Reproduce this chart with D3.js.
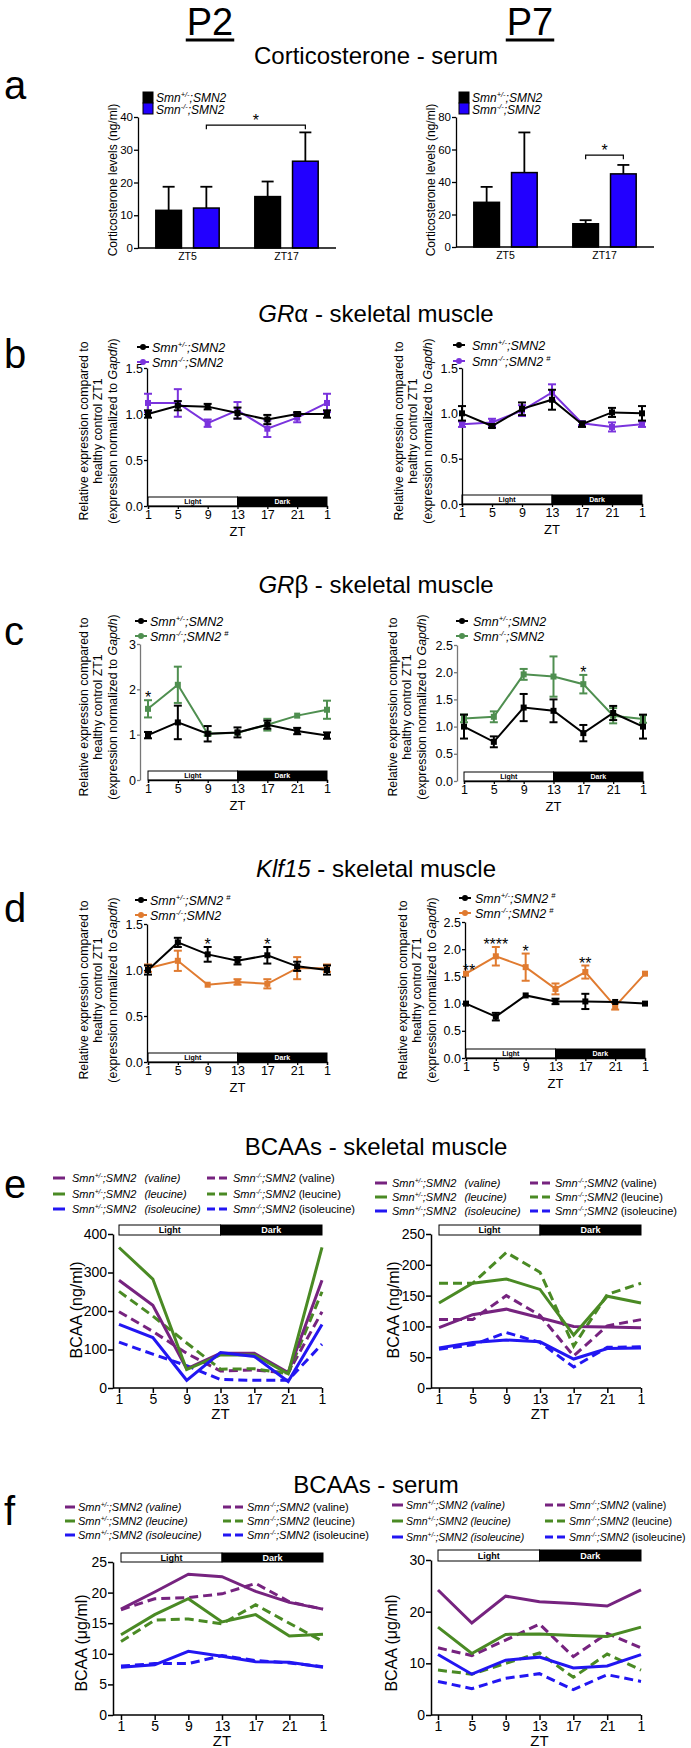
<!DOCTYPE html>
<html><head><meta charset="utf-8">
<script src="https://cdn.jsdelivr.net/npm/d3@7"></script>
<style>
body{margin:0;background:#fff;}
</style></head>
<body>
<script>
// ---------------- DATA ----------------
const ageLabels = ["P2", "P7"];
const panelLetters = ["a", "b", "c", "d", "e", "f"];
const barGroups = ["ZT5", "ZT17"];
const genoSup = ["+/-", "-/-"];
const zt = ["1", "5", "9", "13", "17", "21", "1"];
const ldLabels = ["Light", "Dark"];
const aminoAcids = ["valine", "leucine", "isoleucine"];

// a: corticosterone (ng/ml) [ZT5, ZT17]
const cortP2Het = [11.5, 15.7], cortP2HetErr = [7.2, 4.6];
const cortP2KO = [12.2, 26.5], cortP2KOErr = [6.5, 8.8];
const cortP7Het = [27.5, 14.3], cortP7HetErr = [9.5, 2.2];
const cortP7KO = [45.8, 45.0], cortP7KOErr = [24.7, 5.5];

// b: GR alpha
const graP2Het = [1.00, 1.09, 1.08, 1.01, 0.94, 1.00, 1.00];
const graP2HetErr = [0.04, 0.05, 0.03, 0.06, 0.05, 0.02, 0.04];
const graP2KO = [1.12, 1.12, 0.90, 1.04, 0.84, 0.96, 1.12];
const graP2KOErr = [0.10, 0.15, 0.04, 0.09, 0.09, 0.05, 0.10];
const graP7Het = [1.00, 0.86, 1.05, 1.15, 0.88, 1.01, 1.00];
const graP7HetErr = [0.08, 0.02, 0.07, 0.11, 0.03, 0.05, 0.08];
const graP7KO = [0.88, 0.90, 1.03, 1.23, 0.89, 0.85, 0.88];
const graP7KOErr = [0.03, 0.04, 0.06, 0.09, 0.02, 0.05, 0.03];

// c: GR beta
const grbP2Het = [0.99, 1.27, 1.02, 1.05, 1.22, 1.08, 0.98];
const grbP2HetErr = [0.07, 0.37, 0.17, 0.11, 0.09, 0.07, 0.07];
const grbP2KO = [1.57, 2.10, 1.02, 1.04, 1.22, 1.42, 1.55];
const grbP2KOErr = [0.19, 0.40, 0.04, 0.02, 0.13, 0.02, 0.20];
const grbP7Het = [1.00, 0.72, 1.35, 1.29, 0.88, 1.25, 1.00];
const grbP7HetErr = [0.22, 0.10, 0.25, 0.21, 0.15, 0.13, 0.22];
const grbP7KO = [1.15, 1.18, 1.96, 1.92, 1.78, 1.20, 1.14];
const grbP7KOErr = [0.07, 0.10, 0.10, 0.37, 0.17, 0.14, 0.07];

// d: Klf15
const klfP2Het = [1.00, 1.30, 1.17, 1.10, 1.16, 1.04, 1.00];
const klfP2HetErr = [0.05, 0.05, 0.08, 0.04, 0.09, 0.05, 0.05];
const klfP2KO = [1.02, 1.10, 0.84, 0.87, 0.85, 1.02, 1.02];
const klfP2KOErr = [0.04, 0.11, 0.01, 0.03, 0.05, 0.12, 0.04];
const klfP7Het = [1.00, 0.76, 1.15, 1.04, 1.04, 1.03, 1.00];
const klfP7HetErr = [0.01, 0.07, 0.01, 0.05, 0.14, 0.01, 0.01];
const klfP7KO = [1.55, 1.87, 1.67, 1.27, 1.58, 0.95, 1.55];
const klfP7KOErr = [0.01, 0.17, 0.25, 0.10, 0.12, 0.06, 0.01];

// e: BCAAs skeletal muscle (ng/ml)
const musP2HetVal = [280, 215, 50, 90, 90, 40, 280];
const musP2HetLeu = [365, 283, 48, 86, 86, 37, 365];
const musP2HetIle = [165, 131, 20, 92, 82, 17, 165];
const musP2KOVal = [198, 147, 90, 44, 47, 39, 198];
const musP2KOLeu = [251, 187, 117, 49, 50, 37, 250];
const musP2KOIle = [119, 88, 58, 22, 20, 20, 114];
const musP7HetVal = [98, 119, 128, 114, 100, 99, 98];
const musP7HetLeu = [138, 170, 177, 160, 86, 149, 138];
const musP7HetIle = [65, 74, 78, 75, 47, 64, 65];
const musP7KOVal = [111, 111, 150, 118, 52, 101, 111];
const musP7KOLeu = [170, 170, 220, 188, 68, 152, 170];
const musP7KOIle = [63, 70, 90, 74, 34, 66, 67];

// f: BCAAs serum (ug/ml)
const serP2HetVal = [17.3, 20.1, 23.0, 22.6, 20.2, 18.4, 17.3];
const serP2HetLeu = [13.1, 16.4, 19.0, 15.2, 16.4, 12.9, 13.2];
const serP2HetIle = [7.8, 8.2, 10.4, 9.6, 8.7, 8.6, 7.8];
const serP2KOVal = [17.2, 19.0, 19.2, 19.8, 21.5, 18.5, 17.3];
const serP2KOLeu = [12.0, 15.5, 15.7, 14.9, 18.0, 15.0, 12.0];
const serP2KOIle = [8.0, 8.4, 8.4, 9.7, 8.9, 8.5, 7.9];
const serP7HetVal = [24.2, 17.8, 23.0, 21.9, 21.6, 21.1, 24.2];
const serP7HetLeu = [17.0, 11.9, 15.6, 15.7, 15.4, 15.2, 17.0];
const serP7HetIle = [11.7, 7.9, 10.6, 11.2, 9.1, 9.5, 11.7];
const serP7KOVal = [13.0, 11.5, 14.5, 17.6, 11.3, 15.8, 13.0];
const serP7KOLeu = [8.7, 7.9, 10.0, 12.0, 7.3, 11.8, 8.7];
const serP7KOIle = [6.5, 5.1, 7.1, 8.0, 4.9, 7.8, 6.5];

// ---------------- STYLE ----------------
const FONT = '"Liberation Sans", Arial, Helvetica, sans-serif';
const C = {
  black: "#000000", blue: "#2200ff", purpleB: "#7a33dd", greenC: "#4f8f50",
  orange: "#e07b30", ePurple: "#76237f", eGreen: "#4a8a24", eBlue: "#2216f2"
};

const svg = d3.select("body").append("svg")
  .attr("width", 691).attr("height", 1748)
  .style("font-family", FONT).style("background", "#fff");

// ---------------- HELPERS ----------------
function geno(text, k, fs, opts = {}) {
  text.append("tspan").attr("font-style", "italic").text("Smn");
  text.append("tspan").attr("font-style", "italic").attr("font-size", fs * 0.62)
    .attr("dy", -fs * 0.4).text(genoSup[k]);
  text.append("tspan").attr("font-style", "italic").attr("dy", fs * 0.4).text(";SMN2");
  if (opts.hash) {
    text.append("tspan").attr("font-size", fs * 0.62).attr("dx", 3).attr("dy", -fs * 0.4).text("#");
  }
  if (opts.suffix) {
    text.append("tspan").attr("font-style", opts.suffixItalic ? "italic" : "normal")
      .attr("dx", opts.suffixDx || 3).text(opts.suffix);
  }
}

function drawLD(g, xa, xb, xm, yt, h, fs) {
  g.append("rect").attr("x", xa).attr("y", yt).attr("width", xm - xa).attr("height", h)
    .attr("fill", "#fff").attr("stroke", "#000").attr("stroke-width", 1);
  g.append("rect").attr("x", xm).attr("y", yt).attr("width", xb - xm).attr("height", h)
    .attr("fill", "#000").attr("stroke", "#000").attr("stroke-width", 1);
  g.append("text").attr("x", (xa + xm) / 2).attr("y", yt + h / 2).attr("dy", "0.36em")
    .attr("text-anchor", "middle").attr("font-size", fs).attr("font-weight", "bold").text(ldLabels[0]);
  g.append("text").attr("x", (xm + xb) / 2).attr("y", yt + h / 2).attr("dy", "0.36em")
    .attr("text-anchor", "middle").attr("font-size", fs).attr("font-weight", "bold")
    .attr("fill", "#fff").text(ldLabels[1]);
}

function styleAxis(ax, fs, color = "#000", sw = 1.3) {
  ax.selectAll("path.domain").attr("stroke", color).attr("stroke-width", sw);
  ax.selectAll(".tick line").attr("stroke", color).attr("stroke-width", sw);
  ax.selectAll(".tick text").attr("font-size", fs).attr("fill", "#000").style("font-family", FONT);
}

function multiLabel(g, cx, cy, lines, fs, gap) {
  const t = g.append("g").attr("transform", `translate(${cx},${cy}) rotate(-90)`);
  lines.forEach((ln, i) => {
    const tx = t.append("text").attr("x", 0).attr("y", (i - (lines.length - 1) / 2) * gap + fs * 0.35)
      .attr("text-anchor", "middle").attr("font-size", fs);
    ln.forEach(part => tx.append("tspan").attr("font-style", part.it ? "italic" : "normal").text(part.t));
  });
}

// ---------------- HEADERS ----------------
[[210, ageLabels[0]], [530, ageLabels[1]]].forEach(([cx, lab]) => {
  const t = svg.append("text").attr("x", cx).attr("y", 35).attr("text-anchor", "middle")
    .attr("font-size", 38).text(lab);
  const w = t.node().getComputedTextLength();
  svg.append("rect").attr("x", cx - w / 2 - 1).attr("y", 38.5).attr("width", w + 2).attr("height", 3).attr("fill", "#000");
});

function sectionTitle(y, parts) {
  const t = svg.append("text").attr("x", 376).attr("y", y).attr("text-anchor", "middle").attr("font-size", 24);
  parts.forEach(p => t.append("tspan").attr("font-style", p.it ? "italic" : "normal").text(p.t));
}
sectionTitle(64, [{t: "Corticosterone - serum"}]);
sectionTitle(322, [{t: "GR", it: true}, {t: "α - skeletal muscle"}]);
sectionTitle(593, [{t: "GR", it: true}, {t: "β - skeletal muscle"}]);
sectionTitle(877, [{t: "Klf15", it: true}, {t: " - skeletal muscle"}]);
sectionTitle(1155, [{t: "BCAAs - skeletal muscle"}]);
sectionTitle(1493, [{t: "BCAAs - serum"}]);

[[99, 0], [368, 1], [645, 2], [922, 3], [1198, 4], [1525, 5]].forEach(([y, i]) => {
  svg.append("text").attr("x", 4).attr("y", y).attr("font-size", 40).text(panelLetters[i]);
});

// ---------------- PANEL a ----------------
function barPanel(o) {
  const g = svg.append("g");
  const x = d3.scaleBand().domain(barGroups).range([o.x0, o.x1]);
  const bw = x.bandwidth();
  const xi = d3.scaleBand().domain([0, 1]).range([0.18 * bw, 0.82 * bw]).paddingInner(0.32);
  const y = d3.scaleLinear().domain([0, o.max]).range([o.yBot, o.yTop]);
  const vals = [o.het, o.ko], errs = [o.hetErr, o.koErr], cols = [C.black, C.blue];
  barGroups.forEach((grp, gi) => {
    [0, 1].forEach(k => {
      const bx = x(grp) + xi(k), w = xi.bandwidth(), cx = bx + w / 2;
      const v = vals[k][gi], e = errs[k][gi];
      g.append("line").attr("x1", cx).attr("x2", cx).attr("y1", y(v)).attr("y2", y(v + e))
        .attr("stroke", "#000").attr("stroke-width", 1.8);
      g.append("line").attr("x1", cx - 6).attr("x2", cx + 6).attr("y1", y(v + e)).attr("y2", y(v + e))
        .attr("stroke", "#000").attr("stroke-width", 1.8);
      g.append("rect").attr("x", bx).attr("y", y(v)).attr("width", w).attr("height", o.yBot - y(v))
        .attr("fill", cols[k]).attr("stroke", "#000").attr("stroke-width", 1.5);
    });
  });
  const ya = g.append("g").attr("transform", `translate(${o.x0},0)`)
    .call(d3.axisLeft(y).tickValues(o.ticks).tickSize(4).tickSizeOuter(0).tickPadding(1));
  styleAxis(ya, 11.5);
  g.append("line").attr("x1", o.x0).attr("x2", o.x1).attr("y1", o.yBot).attr("y2", o.yBot)
    .attr("stroke", "#000").attr("stroke-width", 1.3);
  barGroups.forEach(grp => {
    g.append("text").attr("x", x(grp) + bw / 2).attr("y", o.yBot + 12).attr("text-anchor", "middle")
      .attr("font-size", 10.5).text(grp);
  });
  const s = o.sig;
  const sx1 = x(barGroups[s.from[0]]) + xi(s.from[1]) + xi.bandwidth() / 2;
  const sx2 = x(barGroups[s.to[0]]) + xi(s.to[1]) + xi.bandwidth() / 2;
  const sy = y(s.level);
  g.append("path").attr("d", `M${sx1},${sy + 4}V${sy}H${sx2}V${sy + 4}`).attr("fill", "none")
    .attr("stroke", "#000").attr("stroke-width", 1.2);
  g.append("text").attr("x", (sx1 + sx2) / 2).attr("y", sy + 1).attr("text-anchor", "middle")
    .attr("font-size", 16).text(s.label);
  [0, 1].forEach(k => {
    g.append("rect").attr("x", o.legX).attr("y", 92 + k * 11).attr("width", 10).attr("height", 11)
      .attr("fill", cols[k]).attr("stroke", "#000").attr("stroke-width", 1);
    const t = g.append("text").attr("x", o.legX + 13).attr("y", 102 + k * 12).attr("font-size", 12);
    geno(t, k, 12);
  });
  multiLabel(g, o.ylabX, 180, [[{t: "Corticosterone levels (ng/ml)"}]], 12, 14);
}
barPanel({x0: 138, x1: 336, yTop: 117, yBot: 248, max: 40, ticks: [0, 10, 20, 30, 40],
  het: cortP2Het, hetErr: cortP2HetErr, ko: cortP2KO, koErr: cortP2KOErr,
  sig: {from: [0, 1], to: [1, 1], level: 37.5, label: "*"}, legX: 143, ylabX: 113});
barPanel({x0: 456, x1: 654, yTop: 117, yBot: 247, max: 80, ticks: [0, 20, 40, 60, 80],
  het: cortP7Het, hetErr: cortP7HetErr, ko: cortP7KO, koErr: cortP7KOErr,
  sig: {from: [1, 0], to: [1, 1], level: 56.5, label: "*"}, legX: 459, ylabX: 431});

// ---------------- PANELS b-d ----------------
const ylabLines = [
  [{t: "Relative expression compared to"}],
  [{t: "healthy control ZT1"}],
  [{t: "(expression normalized to "}, {t: "Gapdh", it: true}, {t: ")"}]
];
function tsPanel(o) {
  const g = svg.append("g");
  const x = d3.scalePoint().domain(d3.range(zt.length)).range(o.xr);
  const y = d3.scaleLinear().domain(o.yDom).range(o.yr);
  const y0 = o.yr[0];
  drawLD(g, x(0), x(zt.length - 1), x(3), y0 - 9, 9, 7);
  const xa = g.append("g").attr("transform", `translate(0,${y0})`)
    .call(d3.axisBottom(x).tickFormat(i => zt[i]).tickSize(3).tickPadding(1));
  styleAxis(xa, 12.5);
  const ya = g.append("g").attr("transform", `translate(${o.axisX},0)`)
    .call(d3.axisLeft(y).tickValues(o.ticks).tickFormat(o.fmt).tickSize(3).tickSizeOuter(0).tickPadding(1));
  styleAxis(ya, 12.5, o.axisColor || "#000");
  g.append("text").attr("x", x(3)).attr("y", y0 + 30).attr("text-anchor", "middle").attr("font-size", 13).text("ZT");
  const line = d3.line().x((d, i) => x(i)).y(d => y(d));
  o.series.forEach(s => {
    g.append("path").attr("d", line(s.vals)).attr("fill", "none").attr("stroke", s.color).attr("stroke-width", 2);
    s.vals.forEach((v, i) => {
      const e = s.errs[i];
      if (y(v - e) - y(v + e) > 3) {
        g.append("line").attr("x1", x(i)).attr("x2", x(i)).attr("y1", y(v - e)).attr("y2", y(v + e))
          .attr("stroke", s.color).attr("stroke-width", 2);
        [v - e, v + e].forEach(c => g.append("line").attr("x1", x(i) - 4).attr("x2", x(i) + 4)
          .attr("y1", y(c)).attr("y2", y(c)).attr("stroke", s.color).attr("stroke-width", 2));
      }
      g.append("rect").attr("x", x(i) - 3).attr("y", y(v) - 3).attr("width", 6).attr("height", 6).attr("fill", s.color);
    });
  });
  (o.stars || []).forEach(st => {
    const s = o.series[st.s];
    g.append("text").attr("x", x(st.i) + (st.dx || 0)).attr("y", y(s.vals[st.i] + s.errs[st.i]) + 3)
      .attr("text-anchor", "middle").attr("font-size", 16).text(st.label);
  });
  o.legend.items.forEach((it, r) => {
    const ly = o.legend.ys[r];
    g.append("line").attr("x1", o.legend.x - 6).attr("x2", o.legend.x + 6).attr("y1", ly).attr("y2", ly)
      .attr("stroke", it.color).attr("stroke-width", 2);
    g.append("circle").attr("cx", o.legend.x).attr("cy", ly).attr("r", 3).attr("fill", it.color);
    const t = g.append("text").attr("x", o.legend.tx).attr("y", ly + 4.5).attr("font-size", 12.5);
    geno(t, it.k, 12.5, {hash: it.hash});
  });
  multiLabel(g, o.ylabX, o.ylabY, ylabLines, 12.3, 14.5);
}
const fmt1 = d3.format(".1f"), fmt0 = d3.format("d");
tsPanel({xr: [148, 327], yDom: [0, 1.5], yr: [506, 368], axisX: 147, ticks: [0, 0.5, 1, 1.5], fmt: fmt1,
  series: [{vals: graP2KO, errs: graP2KOErr, color: C.purpleB}, {vals: graP2Het, errs: graP2HetErr, color: C.black}],
  legend: {x: 143, tx: 152, ys: [347, 362], items: [{k: 0, color: C.black}, {k: 1, color: C.purpleB}]},
  ylabX: 98, ylabY: 431});
tsPanel({xr: [462, 642], yDom: [0, 1.5], yr: [504, 368], axisX: 462, ticks: [0, 0.5, 1, 1.5], fmt: fmt1,
  series: [{vals: graP7KO, errs: graP7KOErr, color: C.purpleB}, {vals: graP7Het, errs: graP7HetErr, color: C.black}],
  legend: {x: 459, tx: 472, ys: [345, 361], items: [{k: 0, color: C.black}, {k: 1, color: C.purpleB, hash: true}]},
  ylabX: 413, ylabY: 431});
tsPanel({xr: [148, 327], yDom: [0, 3], yr: [780, 644], axisX: 140, ticks: [0, 1, 2, 3], fmt: fmt0, axisColor: "#777",
  series: [{vals: grbP2KO, errs: grbP2KOErr, color: C.greenC}, {vals: grbP2Het, errs: grbP2HetErr, color: C.black}],
  stars: [{s: 0, i: 0, label: "*"}],
  legend: {x: 141, tx: 150, ys: [621, 636], items: [{k: 0, color: C.black}, {k: 1, color: C.greenC, hash: true}]},
  ylabX: 98, ylabY: 707});
tsPanel({xr: [464, 643], yDom: [0, 2.5], yr: [781, 645], axisX: 457, ticks: [0, 0.5, 1, 1.5, 2, 2.5], fmt: fmt1, axisColor: "#777",
  series: [{vals: grbP7KO, errs: grbP7KOErr, color: C.greenC}, {vals: grbP7Het, errs: grbP7HetErr, color: C.black}],
  stars: [{s: 0, i: 4, label: "*"}],
  legend: {x: 462, tx: 473, ys: [621, 636], items: [{k: 0, color: C.black}, {k: 1, color: C.greenC}]},
  ylabX: 407, ylabY: 707});
tsPanel({xr: [148, 327], yDom: [0, 1.5], yr: [1062, 924], axisX: 147, ticks: [0, 0.5, 1, 1.5], fmt: fmt1,
  series: [{vals: klfP2KO, errs: klfP2KOErr, color: C.orange}, {vals: klfP2Het, errs: klfP2HetErr, color: C.black}],
  stars: [{s: 1, i: 2, label: "*"}, {s: 1, i: 4, label: "*"}],
  legend: {x: 141, tx: 150, ys: [900, 915], items: [{k: 0, color: C.black, hash: true}, {k: 1, color: C.orange}]},
  ylabX: 98, ylabY: 990});
tsPanel({xr: [466, 645], yDom: [0, 2.5], yr: [1058, 922], axisX: 465, ticks: [0, 0.5, 1, 1.5, 2, 2.5], fmt: fmt1,
  series: [{vals: klfP7KO, errs: klfP7KOErr, color: C.orange}, {vals: klfP7Het, errs: klfP7HetErr, color: C.black}],
  stars: [{s: 0, i: 0, label: "**", dx: 3}, {s: 0, i: 1, label: "****"}, {s: 0, i: 2, label: "*"}, {s: 0, i: 4, label: "**"}],
  legend: {x: 465, tx: 475, ys: [898, 913], items: [{k: 0, color: C.black, hash: true}, {k: 1, color: C.orange, hash: true}]},
  ylabX: 417, ylabY: 990});

// ---------------- PANELS e-f ----------------
function aaPanel(o) {
  const g = svg.append("g");
  const x = d3.scalePoint().domain(d3.range(zt.length)).range(o.xr);
  const y = d3.scaleLinear().domain(o.yDom).range(o.yr);
  const y0 = o.yr[0];
  drawLD(g, x(0), x(zt.length - 1), x(3), o.ldY, o.ldH, 9);
  const xa = g.append("g").attr("transform", `translate(0,${y0})`)
    .call(d3.axisBottom(x).tickFormat(i => zt[i]).tickSize(5).tickPadding(1));
  xa.select("path.domain").remove();
  styleAxis(xa, 14, "#000", 1.5);
  g.append("line").attr("x1", o.axisX).attr("x2", x(zt.length - 1)).attr("y1", y0).attr("y2", y0)
    .attr("stroke", "#000").attr("stroke-width", 1.5);
  const ya = g.append("g").attr("transform", `translate(${o.axisX},0)`)
    .call(d3.axisLeft(y).tickValues(o.ticks).tickSize(5).tickSizeOuter(0).tickPadding(1));
  styleAxis(ya, 14, "#000", 1.5);
  g.append("text").attr("x", x(3)).attr("y", y0 + 31).attr("text-anchor", "middle").attr("font-size", 15).text("ZT");
  const line = d3.line().x((d, i) => x(i)).y(d => y(d));
  const cols = [C.ePurple, C.eGreen, C.eBlue];
  [o.ko, o.het].forEach((set, si) => {
    set.forEach((vals, a) => {
      g.append("path").attr("d", line(vals)).attr("fill", "none").attr("stroke", cols[a])
        .attr("stroke-width", 3).attr("stroke-dasharray", si === 0 ? "9,5" : null);
    });
  });
  const fs = o.leg.fs;
  aminoAcids.forEach((aa, r) => {
    const ly = o.leg.ys[r];
    g.append("line").attr("x1", o.leg.x1[0]).attr("x2", o.leg.x1[1]).attr("y1", ly).attr("y2", ly)
      .attr("stroke", cols[r]).attr("stroke-width", 3);
    const t1 = g.append("text").attr("x", o.leg.t1).attr("y", ly + 4).attr("font-size", fs);
    geno(t1, 0, fs, {suffix: `(${aa})`, suffixItalic: true, suffixDx: o.leg.sdx});
    g.append("line").attr("x1", o.leg.x2[0]).attr("x2", o.leg.x2[1]).attr("y1", ly).attr("y2", ly)
      .attr("stroke", cols[r]).attr("stroke-width", 3).attr("stroke-dasharray", "8,4");
    const t2 = g.append("text").attr("x", o.leg.t2).attr("y", ly + 4).attr("font-size", fs);
    geno(t2, 1, fs, {suffix: `(${aa})`, suffixItalic: false, suffixDx: 3});
  });
  multiLabel(g, o.ylabX, o.ylabY, [[{t: o.ylab}]], 16, 14);
}
aaPanel({xr: [119, 322], yDom: [0, 400], yr: [1388, 1234], axisX: 113, ticks: [0, 100, 200, 300, 400],
  ldY: 1225, ldH: 10,
  het: [musP2HetVal, musP2HetLeu, musP2HetIle], ko: [musP2KOVal, musP2KOLeu, musP2KOIle],
  leg: {fs: 11, ys: [1178, 1194, 1209], x1: [53, 65], t1: 72, x2: [207, 228], t2: 233, sdx: 8},
  ylab: "BCAA (ng/ml)", ylabX: 76, ylabY: 1310});
aaPanel({xr: [439, 641], yDom: [0, 250], yr: [1388, 1234], axisX: 431, ticks: [0, 50, 100, 150, 200, 250],
  ldY: 1225, ldH: 10,
  het: [musP7HetVal, musP7HetLeu, musP7HetIle], ko: [musP7KOVal, musP7KOLeu, musP7KOIle],
  leg: {fs: 11, ys: [1183, 1197, 1211], x1: [375, 387], t1: 392, x2: [530, 550], t2: 555, sdx: 8},
  ylab: "BCAA (ng/ml)", ylabX: 393, ylabY: 1310});
aaPanel({xr: [121, 323], yDom: [0, 25], yr: [1715, 1562], axisX: 113, ticks: [0, 5, 10, 15, 20, 25],
  ldY: 1553, ldH: 9,
  het: [serP2HetVal, serP2HetLeu, serP2HetIle], ko: [serP2KOVal, serP2KOLeu, serP2KOIle],
  leg: {fs: 11, ys: [1507, 1521, 1535], x1: [65, 75], t1: 78, x2: [223, 243], t2: 247, sdx: 3},
  ylab: "BCAA (μg/ml)", ylabX: 81, ylabY: 1643});
aaPanel({xr: [438, 641], yDom: [0, 30], yr: [1715, 1560], axisX: 431, ticks: [0, 10, 20, 30],
  ldY: 1550, ldH: 11,
  het: [serP7HetVal, serP7HetLeu, serP7HetIle], ko: [serP7KOVal, serP7KOLeu, serP7KOIle],
  leg: {fs: 10.5, ys: [1505, 1521, 1537], x1: [392, 403], t1: 406, x2: [545, 566], t2: 569, sdx: 3},
  ylab: "BCAA (μg/ml)", ylabX: 391, ylabY: 1643});
</script>
</body></html>
